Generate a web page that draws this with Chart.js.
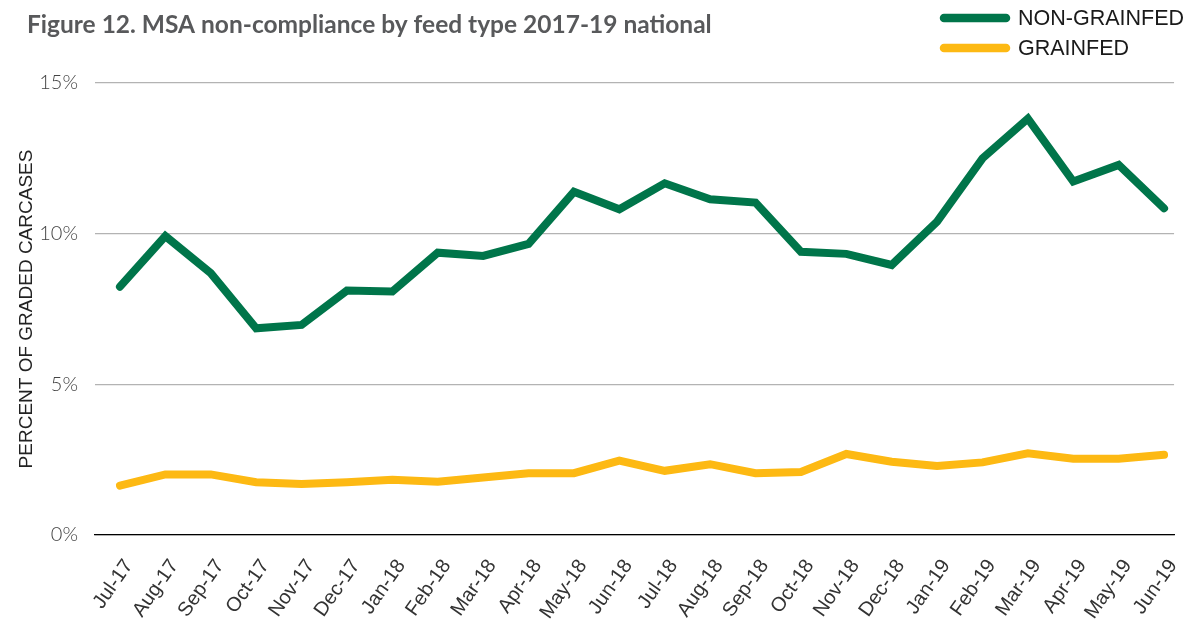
<!DOCTYPE html>
<html>
<head>
<meta charset="utf-8">
<script src="https://cdn.jsdelivr.net/npm/chart.js@4.4.1/dist/chart.umd.min.js"></script>
<style>
  html, body { margin: 0; padding: 0; background: #ffffff; }
  #wrap { position: relative; width: 1204px; height: 621px; }
</style>
</head>
<body>
<div id="wrap"><canvas id="c" width="1204" height="621"></canvas></div>
<script>
const titleText = 'Figure 12. MSA non-compliance by feed type 2017-19 national';
const yAxisTitle = 'PERCENT OF GRADED CARCASES';
const categories = ['Jul-17','Aug-17','Sep-17','Oct-17','Nov-17','Dec-17','Jan-18','Feb-18','Mar-18','Apr-18','May-18','Jun-18','Jul-18','Aug-18','Sep-18','Oct-18','Nov-18','Dec-18','Jan-19','Feb-19','Mar-19','Apr-19','May-19','Jun-19'];
const seriesNames = ['NON-GRAINFED', 'GRAINFED'];
const nonGrainfed = [8.24, 9.92, 8.69, 6.86, 6.97, 8.11, 8.08, 9.37, 9.26, 9.66, 11.39, 10.81, 11.67, 11.14, 11.03, 9.40, 9.33, 8.96, 10.40, 12.50, 13.82, 11.73, 12.28, 10.84];
const grainfed = [1.64, 2.01, 2.01, 1.75, 1.69, 1.75, 1.83, 1.77, 1.91, 2.05, 2.05, 2.47, 2.13, 2.35, 2.05, 2.09, 2.69, 2.43, 2.29, 2.41, 2.71, 2.53, 2.53, 2.66];
const yTicks = [0, 5, 10, 15];

const GREEN = '#00754a';
const YELLOW = '#fdb913';

const toPoints = arr => arr.map((v, i) => ({ x: i, y: v }));

const overlay = {
  id: 'overlay',
  afterDraw(chart) {
    const ctx = chart.ctx;
    ctx.save();
    // title
    ctx.fillStyle = '#58595b';
    ctx.font = 'bold 24.5px Lato, "Open Sans", sans-serif';
    ctx.textAlign = 'left';
    ctx.textBaseline = 'middle';
    ctx.fillText(titleText, 27, 25);
    // legend
    const items = [{ name: seriesNames[0], color: GREEN, y: 18 }, { name: seriesNames[1], color: YELLOW, y: 48 }];
    items.forEach(it => {
      ctx.strokeStyle = it.color;
      ctx.lineWidth = 8.5;
      ctx.lineCap = 'round';
      ctx.beginPath();
      ctx.moveTo(944, it.y);
      ctx.lineTo(1006, it.y);
      ctx.stroke();
      ctx.fillStyle = '#1a1a1a';
      ctx.font = '21.5px "Liberation Sans", Arial, sans-serif';
      ctx.textBaseline = 'middle';
      ctx.fillText(it.name, 1018, it.y + 1);
    });
    ctx.restore();
  }
};

new Chart(document.getElementById('c'), {
  type: 'line',
  data: {
    datasets: [
      { label: seriesNames[0], data: toPoints(nonGrainfed), borderColor: GREEN, backgroundColor: GREEN, borderWidth: 8, pointRadius: 0, tension: 0, borderCapStyle: 'round', borderJoinStyle: 'miter' },
      { label: seriesNames[1], data: toPoints(grainfed), borderColor: YELLOW, backgroundColor: YELLOW, borderWidth: 8, pointRadius: 0, tension: 0, borderCapStyle: 'round', borderJoinStyle: 'miter' }
    ]
  },
  options: {
    responsive: false,
    animation: false,
    events: [],
    layout: { padding: { top: 83, right: 29, left: 0, bottom: 0 } },
    plugins: { legend: { display: false }, title: { display: false }, tooltip: { enabled: false } },
    scales: {
      x: {
        type: 'linear',
        min: -0.55,
        max: 23.22,
        afterFit(s) { s.height = 86; },
        afterBuildTicks(s) { s.ticks = categories.map((c, i) => ({ value: i })); },
        grid: { display: false, drawTicks: false },
        border: { display: true, color: '#000000', width: 1.2 },
        ticks: {
          autoSkip: false,
          maxRotation: 55,
          minRotation: 55,
          padding: 20,
          labelOffset: 9,
          color: '#333333',
          font: { family: '"Liberation Sans", Arial, sans-serif', size: 20 },
          callback: v => categories[v] ?? ''
        }
      },
      y: {
        min: 0,
        max: 15,
        afterFit(s) { s.width = 95; },
        afterBuildTicks(s) { s.ticks = yTicks.map(v => ({ value: v })); },
        grid: { color: '#b3b3b3', lineWidth: 1.2, drawTicks: false },
        border: { display: false },
        ticks: {
          padding: 17,
          color: '#444444',
          font: { family: 'Lato, "Open Sans", sans-serif', size: 20, weight: '300' },
          callback: v => v + '%'
        },
        title: {
          display: true,
          text: yAxisTitle,
          color: '#222222',
          font: { family: '"Liberation Sans", Arial, sans-serif', size: 19 },
          padding: { top: 15, bottom: 0 }
        }
      }
    }
  },
  plugins: [overlay]
});
</script>
</body>
</html>
